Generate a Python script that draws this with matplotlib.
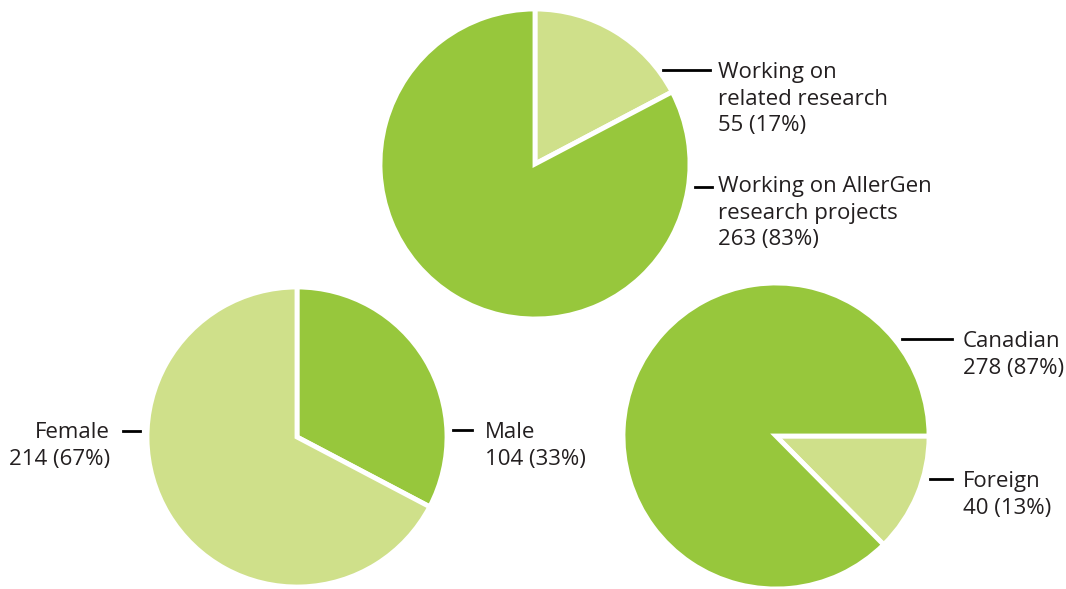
import matplotlib.pyplot as plt

# data
top_labels = ["Working on\nrelated research\n55 (17%)", "Working on AllerGen\nresearch projects\n263 (83%)"]
top_values = [55, 263]
gender_labels = ["Male\n104 (33%)", "Female\n214 (67%)"]
gender_values = [104, 214]
origin_labels = ["Foreign\n40 (13%)", "Canadian\n278 (87%)"]
origin_values = [40, 278]

dark = "#97c73c"
light = "#cfe08a"
H = 589

plt.rcParams['font.family'] = ['Open Sans', 'DejaVu Sans']

fig = plt.figure(figsize=(10.66, 5.89), dpi=100)
ax = fig.add_axes([0, 0, 1, 1])

wp = dict(edgecolor='white', linewidth=3.5)

# top pie
ax.pie(top_values, colors=[light, dark], startangle=90, counterclock=False,
       center=(535, H - 164), radius=155, wedgeprops=wp, frame=True)
# gender pie
ax.pie(gender_values, colors=[dark, light], startangle=90, counterclock=False,
       center=(297, H - 437), radius=150, wedgeprops=wp, frame=True)
# origin pie
ax.pie(origin_values, colors=[light, dark], startangle=0, counterclock=False,
       center=(776, H - 436), radius=153, wedgeprops=wp, explode=[0.03, 0],
       frame=True)
ax.set_xlim(0, 1066)
ax.set_ylim(0, H)
ax.set_aspect('equal')
ax.axis('off')

fs = 16
def label(x, y, text, x0, x1, ly, ha='left'):
    ax.plot([x0, x1], [H - ly, H - ly], color='black', lw=2)
    ax.text(x, H - y, text, ha=ha, va='top', fontsize=fs, color='#231f20',
            linespacing=1.35, multialignment=ha)

label(718, 62, top_labels[0], 663, 710, 70)
label(718, 176, top_labels[1], 695, 712, 187)
label(110, 422, gender_labels[1], 123, 140, 431, ha='right')
label(485, 422, gender_labels[0], 453, 472, 430)
label(963, 331, origin_labels[1], 902, 952, 339)
label(963, 471, origin_labels[0], 930, 952, 479)

fig.savefig("out.png", dpi=100)
